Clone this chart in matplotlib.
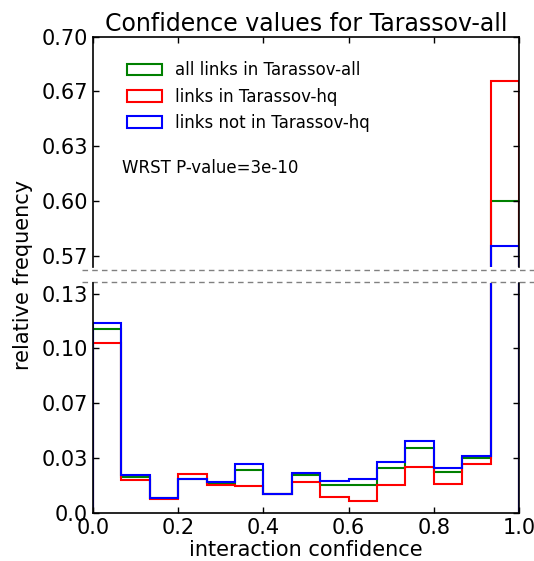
import numpy as np
import matplotlib
matplotlib.use("Agg")
import matplotlib.pyplot as plt
from matplotlib.patches import Patch

# confidence histogram, 15 equal bins on [0, 1]
bin_edges = np.linspace(0, 1, 16)

all_links = [0.1119, 0.0219, 0.0088, 0.0207, 0.0179, 0.0262, 0.0112, 0.0227,
             0.0167, 0.0167, 0.0270, 0.0395, 0.0248, 0.0333, 0.6000]
hq_links = [0.1032, 0.0197, 0.0081, 0.0233, 0.0167, 0.0164, 0.0112, 0.0187,
            0.0096, 0.0073, 0.0168, 0.0280, 0.0175, 0.0298, 0.6733]
non_hq_links = [0.1156, 0.0231, 0.0091, 0.0203, 0.0187, 0.0296, 0.0112, 0.0243,
                0.0195, 0.0203, 0.0308, 0.0438, 0.0272, 0.0347, 0.5723]

series_labels = ["all links in Tarassov-all", "links in Tarassov-hq",
                 "links not in Tarassov-hq"]
series_colors = ["green", "red", "blue"]

top_ticks = [0.7, 2 / 3, 0.6 + 1 / 30, 0.6, 0.6 - 1 / 30]
top_ticklabels = ["0.70", "0.67", "0.63", "0.60", "0.57"]
bottom_ticks = [0, 1 / 30, 2 / 30, 0.1, 0.1 + 1 / 30]
bottom_ticklabels = ["0.0", "0.03", "0.07", "0.10", "0.13"]
x_ticks = [0.0, 0.2, 0.4, 0.6, 0.8, 1.0]
p_value_text = "WRST P-value=3e-10"

plt.rcParams["font.family"] = "DejaVu Sans"
plt.rcParams["xtick.direction"] = "in"
plt.rcParams["ytick.direction"] = "in"
plt.rcParams["xtick.major.size"] = 4
plt.rcParams["ytick.major.size"] = 4

fig = plt.figure(figsize=(5.34, 5.61), dpi=100)
ax_top = fig.add_axes([0.174, 0.5246, 0.798, 0.41])
ax_bot = fig.add_axes([0.174, 0.0861, 0.798, 0.41])

for ax in (ax_top, ax_bot):
    for values, color in zip([all_links, hq_links, non_hq_links], series_colors):
        ax.stairs(values, bin_edges, color=color, lw=1.5)
    ax.set_xlim(0, 1)
    ax.tick_params(labelsize=15, right=True, width=1)
    for sp in ax.spines.values():
        sp.set_linewidth(1.2)

ax_top.set_ylim(0.56, 0.70)
ax_bot.set_ylim(0, 0.14)

ax_top.spines["bottom"].set_visible(False)
ax_bot.spines["top"].set_visible(False)
ax_top.xaxis.tick_top()
ax_top.tick_params(labeltop=False)
ax_top.set_xticks(x_ticks)
ax_bot.xaxis.tick_bottom()
ax_bot.set_xticks(x_ticks)
ax_bot.set_xticklabels(["%.1f" % t for t in x_ticks])
ax_bot.tick_params(axis="x", pad=4)

ax_top.set_yticks(top_ticks)
ax_top.set_yticklabels(top_ticklabels)
ax_bot.set_yticks(bottom_ticks)
ax_bot.set_yticklabels(bottom_ticklabels)

# dashed break marks between the two panels
dash = dict(color="gray", lw=1, ls=(0, (4, 3)), clip_on=False)
ax_top.plot([-0.026, 1.2], [-0.014, -0.014], transform=ax_top.transAxes, **dash)
ax_bot.plot([-0.026, 1.2], [1.004, 1.004], transform=ax_bot.transAxes, **dash)

ax_top.set_title("Confidence values for Tarassov-all", fontsize=17, pad=4)
ax_bot.set_xlabel("interaction confidence", fontsize=15, labelpad=1)
fig.text(0.043, 0.51, "relative frequency", rotation=90, fontsize=15,
         ha="center", va="center")

handles = [Patch(facecolor="none", edgecolor=c, lw=1.5) for c in series_colors]
ax_top.legend(handles, series_labels, loc="upper left", frameon=False,
              fontsize=12, bbox_to_anchor=(0.045, 0.958), handlelength=2.1,
              handleheight=0.7, labelspacing=0.5, handletextpad=0.8)
ax_top.text(0.068, 0.43, p_value_text, transform=ax_top.transAxes,
            fontsize=12, va="center")

fig.savefig("out.png", dpi=100)
